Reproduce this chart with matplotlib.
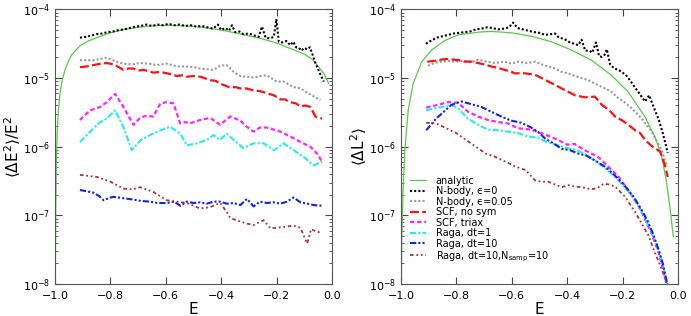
import numpy as np
import matplotlib
matplotlib.use('Agg')
import matplotlib.pyplot as plt
from matplotlib.ticker import LogLocator, NullFormatter, MultipleLocator

plt.rcParams['mathtext.fontset'] = 'dejavusans'
plt.rcParams['mathtext.default'] = 'regular'

# ---------------- left panel: <dE^2>/E^2 (values are log10) ----------------
E_an_L = [-1.0, -0.999, -0.997, -0.995, -0.992, -0.988, -0.982, -0.975, -0.964, -0.95,
          -0.94, -0.91, -0.88, -0.855, -0.8, -0.75, -0.7, -0.65, -0.6, -0.55, -0.5,
          -0.45, -0.4, -0.35, -0.3, -0.25, -0.2, -0.15, -0.1, -0.07, -0.05, -0.03, -0.012]
lg_an_L = [-8.6, -8.0, -6.8, -6.2, -5.8, -5.47, -5.22, -5.05, -4.88, -4.74,
           -4.66, -4.53, -4.46, -4.42, -4.34, -4.29, -4.26, -4.24, -4.23, -4.235, -4.245,
           -4.27, -4.30, -4.34, -4.385, -4.43, -4.49, -4.57, -4.65, -4.73, -4.83, -4.93, -5.08]

E_nb0_L = [-0.91, -0.89, -0.87, -0.85, -0.83, -0.81, -0.79, -0.77, -0.75, -0.73, -0.71,
           -0.69, -0.67, -0.65, -0.63, -0.61, -0.59, -0.57, -0.55, -0.53, -0.51, -0.49,
           -0.47, -0.45, -0.43, -0.412, -0.40, -0.385, -0.372, -0.361, -0.35, -0.335,
           -0.32, -0.30, -0.28, -0.265, -0.253, -0.24, -0.225, -0.21, -0.201, -0.192,
           -0.18, -0.165, -0.15, -0.14, -0.13, -0.12, -0.11, -0.10, -0.09, -0.08,
           -0.07, -0.06, -0.045, -0.03]
lg_nb0_L = [-4.41, -4.40, -4.38, -4.36, -4.35, -4.33, -4.32, -4.30, -4.29, -4.27, -4.25,
            -4.24, -4.22, -4.24, -4.22, -4.23, -4.21, -4.23, -4.22, -4.24, -4.23, -4.25,
            -4.24, -4.26, -4.28, -4.22, -4.30, -4.27, -4.31, -4.23, -4.33, -4.32,
            -4.36, -4.35, -4.38, -4.40, -4.25, -4.41, -4.42, -4.40, -4.14, -4.47,
            -4.48, -4.46, -4.52, -4.47, -4.55, -4.56, -4.60, -4.56, -4.58, -4.55,
            -4.66, -4.78, -4.92, -5.05]

E_nb5_L = [-0.91, -0.86, -0.813, -0.78, -0.753, -0.72, -0.693, -0.66, -0.633, -0.596,
           -0.56, -0.536, -0.5, -0.476, -0.45, -0.428, -0.404, -0.38, -0.355, -0.331,
           -0.31, -0.283, -0.26, -0.235, -0.2, -0.175, -0.139, -0.114, -0.078, -0.042]
lg_nb5_L = [-4.74, -4.74, -4.70, -4.76, -4.79, -4.80, -4.78, -4.79, -4.81, -4.79,
            -4.83, -4.83, -4.84, -4.86, -4.87, -4.88, -4.82, -4.81, -4.91, -4.97,
            -4.98, -4.99, -4.97, -4.96, -5.05, -5.05, -5.13, -5.15, -5.24, -5.32]

E_scf_L = [-0.91, -0.885, -0.861, -0.835, -0.813, -0.789, -0.77, -0.753, -0.735, -0.717,
           -0.7, -0.68, -0.66, -0.645, -0.62, -0.596, -0.575, -0.56, -0.54, -0.524,
           -0.5, -0.476, -0.46, -0.44, -0.42, -0.404, -0.385, -0.367, -0.35, -0.331,
           -0.31, -0.283, -0.26, -0.235, -0.21, -0.187, -0.17, -0.151, -0.13, -0.114,
           -0.095, -0.078, -0.06, -0.036]
lg_scf_L = [-4.84, -4.83, -4.81, -4.79, -4.78, -4.80, -4.84, -4.88, -4.86, -4.86,
            -4.89, -4.88, -4.90, -4.92, -4.91, -4.93, -4.95, -4.97, -4.96, -4.98,
            -4.97, -4.98, -5.00, -5.03, -5.04, -5.08, -5.11, -5.14, -5.13, -5.15,
            -5.15, -5.18, -5.19, -5.22, -5.25, -5.31, -5.31, -5.35, -5.37, -5.41,
            -5.40, -5.42, -5.56, -5.59]

E_tri_L = [-0.91, -0.873, -0.837, -0.813, -0.783, -0.753, -0.717, -0.69, -0.67, -0.645,
           -0.62, -0.596, -0.572, -0.548, -0.53, -0.512, -0.476, -0.44, -0.404, -0.38,
           -0.367, -0.331, -0.31, -0.283, -0.26, -0.235, -0.21, -0.187, -0.151, -0.114,
           -0.078, -0.054, -0.036]
lg_tri_L = [-5.61, -5.47, -5.42, -5.35, -5.23, -5.42, -5.68, -5.57, -5.55, -5.56,
            -5.37, -5.35, -5.37, -5.66, -5.64, -5.66, -5.61, -5.58, -5.68, -5.60,
            -5.56, -5.62, -5.70, -5.78, -5.72, -5.72, -5.75, -5.78, -5.85, -5.93,
            -6.00, -6.10, -6.22]

E_r1_L = [-0.91, -0.873, -0.837, -0.813, -0.783, -0.753, -0.723, -0.69, -0.657, -0.62,
          -0.584, -0.548, -0.524, -0.488, -0.452, -0.428, -0.404, -0.38, -0.355, -0.32,
          -0.283, -0.247, -0.21, -0.175, -0.139, -0.102, -0.066, -0.036]
lg_r1_L = [-5.93, -5.78, -5.64, -5.59, -5.47, -5.71, -6.05, -5.90, -5.83, -5.76,
           -5.71, -5.81, -5.98, -5.95, -5.90, -5.83, -5.90, -5.81, -5.90, -6.02,
           -5.95, -5.95, -6.05, -5.95, -6.05, -6.15, -6.27, -6.22]

E_r10_L = [-0.91, -0.885, -0.861, -0.84, -0.825, -0.80, -0.789, -0.753, -0.717, -0.69,
           -0.657, -0.63, -0.596, -0.57, -0.548, -0.524, -0.5, -0.476, -0.452, -0.428,
           -0.404, -0.38, -0.355, -0.331, -0.307, -0.283, -0.26, -0.235, -0.21, -0.187,
           -0.163, -0.139, -0.114, -0.09, -0.066, -0.036]
lg_r10_L = [-6.63, -6.65, -6.67, -6.72, -6.78, -6.74, -6.73, -6.75, -6.77, -6.79,
            -6.80, -6.82, -6.82, -6.80, -6.86, -6.80, -6.82, -6.81, -6.83, -6.80,
            -6.80, -6.83, -6.82, -6.85, -6.76, -6.87, -6.80, -6.82, -6.81, -6.83,
            -6.80, -6.74, -6.81, -6.83, -6.85, -6.86]

E_rs_L = [-0.91, -0.849, -0.80, -0.753, -0.72, -0.693, -0.645, -0.596, -0.56, -0.524,
          -0.5, -0.476, -0.44, -0.404, -0.38, -0.367, -0.331, -0.307, -0.283, -0.247,
          -0.222, -0.175, -0.139, -0.114, -0.09, -0.075, -0.066, -0.036]
lg_rs_L = [-6.41, -6.44, -6.51, -6.61, -6.62, -6.59, -6.66, -6.78, -6.80, -6.82,
           -6.86, -6.90, -6.88, -6.82, -6.95, -7.04, -7.09, -7.12, -7.14, -7.07,
           -7.19, -7.17, -7.15, -7.18, -7.41, -7.20, -7.22, -7.26]

# ---------------- right panel: <dL^2> (values are log10) ----------------
E_an_R = [-1.0, -0.997, -0.992, -0.986, -0.974, -0.956, -0.925, -0.889, -0.841, -0.793,
          -0.721, -0.673, -0.601, -0.529, -0.457, -0.385, -0.312, -0.24, -0.18, -0.12,
          -0.084, -0.06, -0.042, -0.03, -0.017]
lg_an_R = [-8.6, -7.3, -6.6, -6.05, -5.47, -5.08, -4.76, -4.59, -4.45, -4.37,
           -4.33, -4.32, -4.34, -4.39, -4.47, -4.59, -4.74, -4.96, -5.20, -5.56,
           -5.85, -6.12, -6.50, -6.85, -7.31]

E_nb0_R = [-0.91, -0.89, -0.87, -0.85, -0.83, -0.81, -0.79, -0.77, -0.75, -0.73, -0.71,
           -0.69, -0.67, -0.65, -0.63, -0.61, -0.595, -0.58, -0.56, -0.54, -0.52,
           -0.50, -0.48, -0.46, -0.444, -0.43, -0.41, -0.395, -0.375, -0.36, -0.348,
           -0.335, -0.32, -0.31, -0.296, -0.285, -0.275, -0.265, -0.257, -0.245,
           -0.23, -0.215, -0.20, -0.185, -0.17, -0.155, -0.14, -0.13, -0.119, -0.104,
           -0.09, -0.07, -0.055, -0.037]
lg_nb0_R = [-4.50, -4.45, -4.41, -4.39, -4.37, -4.35, -4.34, -4.33, -4.32, -4.29, -4.28,
            -4.26, -4.27, -4.29, -4.28, -4.26, -4.19, -4.27, -4.29, -4.31, -4.33,
            -4.34, -4.37, -4.36, -4.35, -4.41, -4.43, -4.47, -4.50, -4.52, -4.44,
            -4.60, -4.60, -4.63, -4.48, -4.68, -4.69, -4.66, -4.58, -4.80,
            -4.86, -4.88, -4.92, -4.97, -5.05, -5.14, -5.22, -5.28, -5.34, -5.25,
            -5.40, -5.60, -5.80, -6.09]

E_nb5_R = [-0.903, -0.88, -0.854, -0.83, -0.806, -0.77, -0.745, -0.722, -0.69, -0.662,
           -0.626, -0.6, -0.578, -0.545, -0.516, -0.492, -0.468, -0.444, -0.42, -0.396,
           -0.372, -0.348, -0.324, -0.3, -0.264, -0.24, -0.216, -0.19, -0.167, -0.131,
           -0.095, -0.059, -0.04]
lg_nb5_R = [-4.82, -4.78, -4.76, -4.75, -4.76, -4.75, -4.77, -4.73, -4.76, -4.78,
            -4.76, -4.79, -4.76, -4.78, -4.76, -4.80, -4.83, -4.86, -4.91, -4.93,
            -4.97, -5.00, -5.03, -5.08, -5.15, -5.20, -5.29, -5.36, -5.44, -5.59,
            -5.78, -6.05, -6.29]

E_scf_R = [-0.905, -0.88, -0.854, -0.83, -0.81, -0.79, -0.77, -0.745, -0.722, -0.7,
           -0.674, -0.65, -0.626, -0.6, -0.59, -0.554, -0.517, -0.492, -0.468, -0.444,
           -0.42, -0.396, -0.372, -0.336, -0.3, -0.275, -0.25, -0.227, -0.2, -0.179,
           -0.155, -0.137, -0.119, -0.095, -0.065, -0.047, -0.037]
lg_scf_R = [-4.76, -4.75, -4.73, -4.72, -4.73, -4.74, -4.76, -4.76, -4.78, -4.80,
            -4.83, -4.85, -4.88, -4.91, -4.93, -4.93, -4.95, -5.00, -5.05, -5.10,
            -5.15, -5.20, -5.25, -5.28, -5.27, -5.39, -5.46, -5.56, -5.62, -5.68,
            -5.76, -5.80, -5.90, -5.99, -6.07, -6.27, -6.44]

E_tri_R = [-0.909, -0.866, -0.83, -0.794, -0.758, -0.722, -0.686, -0.65, -0.614, -0.578,
           -0.53, -0.481, -0.433, -0.40, -0.373, -0.337, -0.288, -0.252, -0.216, -0.18,
           -0.144, -0.12, -0.096, -0.072, -0.054, -0.042, -0.036]
lg_tri_R = [-5.43, -5.39, -5.35, -5.36, -5.49, -5.56, -5.61, -5.64, -5.66, -5.73,
            -5.75, -5.82, -5.90, -5.97, -5.96, -6.05, -6.15, -6.29, -6.43, -6.63,
            -6.85, -7.05, -7.26, -7.52, -7.78, -7.99, -8.09]

E_r1_R = [-0.909, -0.866, -0.818, -0.794, -0.758, -0.722, -0.686, -0.65, -0.614, -0.578,
          -0.542, -0.506, -0.48, -0.44, -0.40, -0.37, -0.34, -0.30, -0.26, -0.22,
          -0.19, -0.16, -0.13, -0.11, -0.09, -0.07, -0.055, -0.04, -0.033]
lg_r1_R = [-5.47, -5.43, -5.39, -5.44, -5.59, -5.68, -5.75, -5.76, -5.78, -5.80,
           -5.85, -5.87, -5.92, -5.97, -6.02, -6.04, -6.10, -6.20, -6.32, -6.47,
           -6.60, -6.75, -6.95, -7.12, -7.30, -7.52, -7.72, -8.00, -8.15]

E_r10_R = [-0.909, -0.873, -0.837, -0.818, -0.782, -0.746, -0.71, -0.674, -0.638, -0.602,
           -0.566, -0.53, -0.506, -0.48, -0.45, -0.42, -0.39, -0.36, -0.33, -0.30,
           -0.26, -0.22, -0.19, -0.16, -0.13, -0.11, -0.09, -0.07, -0.055, -0.04, -0.03]
lg_r10_R = [-5.76, -5.59, -5.46, -5.39, -5.34, -5.38, -5.42, -5.49, -5.56, -5.62,
            -5.65, -5.72, -5.78, -5.88, -5.95, -6.03, -6.05, -6.10, -6.13, -6.20,
            -6.30, -6.45, -6.58, -6.73, -6.93, -7.08, -7.27, -7.50, -7.70, -7.98, -8.20]

E_rs_R = [-0.909, -0.873, -0.837, -0.801, -0.765, -0.73, -0.694, -0.658, -0.622, -0.586,
          -0.55, -0.516, -0.492, -0.468, -0.444, -0.42, -0.396, -0.372, -0.348, -0.312,
          -0.29, -0.269, -0.248, -0.227, -0.191, -0.155, -0.131, -0.107, -0.083,
          -0.065, -0.047, -0.039]
lg_rs_R = [-5.65, -5.66, -5.73, -5.80, -5.90, -6.00, -6.10, -6.15, -6.22, -6.29,
           -6.34, -6.49, -6.51, -6.51, -6.55, -6.59, -6.56, -6.58, -6.59, -6.62,
           -6.60, -6.54, -6.55, -6.58, -6.73, -6.95, -7.12, -7.29, -7.55,
           -7.72, -7.92, -8.04]

labels = ['analytic', 'N-body, \u03f5=0', 'N-body, \u03f5=0.05', 'SCF, no sym',
          'SCF, triax', 'Raga, dt=1', 'Raga, dt=10', r'Raga, dt=10,N$_{samp}$=10']

styles = [
    dict(color='#55cc44', lw=0.9, ls='-'),
    dict(color='black', lw=1.5, ls=(0, (1, 1))),
    dict(color='#999999', lw=1.5, ls=(0, (1, 1))),
    dict(color='#ff1111', lw=1.6, ls=(0, (4, 1.5))),
    dict(color='#ff22ff', lw=1.6, ls=(0, (2, 1.2))),
    dict(color='#22eeee', lw=1.5, ls=(0, (3, 1, 1, 1))),
    dict(color='#1122ee', lw=1.5, ls=(0, (3, 1, 1, 1, 1, 1))),
    dict(color='#aa3333', lw=1.3, ls=(0, (2, 1.5, 1, 1.5, 1, 1.5))),
]

left_series = [(E_an_L, lg_an_L), (E_nb0_L, lg_nb0_L), (E_nb5_L, lg_nb5_L), (E_scf_L, lg_scf_L),
               (E_tri_L, lg_tri_L), (E_r1_L, lg_r1_L), (E_r10_L, lg_r10_L), (E_rs_L, lg_rs_L)]
right_series = [(E_an_R, lg_an_R), (E_nb0_R, lg_nb0_R), (E_nb5_R, lg_nb5_R), (E_scf_R, lg_scf_R),
                (E_tri_R, lg_tri_R), (E_r1_R, lg_r1_R), (E_r10_R, lg_r10_R), (E_rs_R, lg_rs_R)]


def style_axis(ax):
    ax.set_yscale('log')
    ax.set_xlim(-1.0, 0.0)
    ax.set_ylim(1e-8, 1e-4)
    ax.xaxis.set_major_locator(MultipleLocator(0.2))
    ax.yaxis.set_major_locator(LogLocator(base=10, numticks=10))
    ax.yaxis.set_minor_locator(LogLocator(base=10, subs=np.arange(2, 10), numticks=20))
    ax.yaxis.set_minor_formatter(NullFormatter())
    ax.tick_params(which='both', direction='in', top=True, right=True, labelsize=8,
                   color='#444444')
    ax.tick_params(which='major', length=5)
    ax.tick_params(which='minor', length=2.5)
    ax.tick_params(axis='x', pad=5)
    ax.set_xticks([-1.0, -0.8, -0.6, -0.4, -0.2, 0.0])
    ax.set_xticklabels(['\u22121.0', '\u22120.8', '\u22120.6', '\u22120.4', '\u22120.2', '0.0'])
    for sp in ax.spines.values():
        sp.set_color('#555555')
        sp.set_linewidth(0.8)
    ax.set_xlabel('E', fontsize=11, labelpad=1)


fig = plt.figure(figsize=(6.91, 3.16), dpi=100)
axL = fig.add_axes([0.0796, 0.1013, 0.4009, 0.8687])
axR = fig.add_axes([0.5803, 0.1013, 0.4009, 0.8687])

for (e, lg), st, lab in zip(left_series, styles, labels):
    axL.plot(e, 10 ** np.array(lg), label=lab, **st)
for (e, lg), st, lab in zip(right_series, styles, labels):
    axR.plot(e, 10 ** np.array(lg), label=lab, **st)

style_axis(axL)
style_axis(axR)
axL.set_ylabel(r'$\langle\Delta E^2\rangle/E^2$', fontsize=11)
axR.set_ylabel(r'$\langle\Delta L^2\rangle$', fontsize=11)
axL.yaxis.set_label_coords(-0.115, 0.5)
axR.yaxis.set_label_coords(-0.115, 0.5)

axR.legend(loc='lower left', bbox_to_anchor=(0.02, 0.06), frameon=False, fontsize=7,
           handlelength=1.6, handletextpad=1.0, labelspacing=0.05, borderaxespad=0.0)

fig.savefig('out.png', dpi=100)
